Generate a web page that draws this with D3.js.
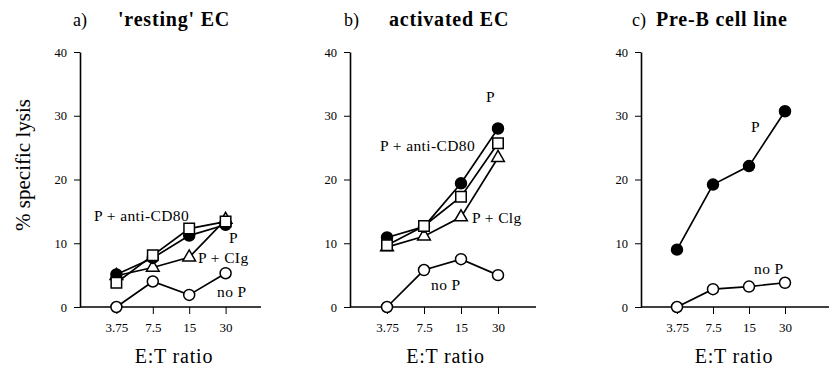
<!DOCTYPE html>
<html>
<head>
<meta charset="utf-8">
<script src="https://cdn.jsdelivr.net/npm/d3@7"></script>
<style>
  body { margin: 0; background: #fff; }
</style>
</head>
<body>
<svg id="chart" width="829" height="371" font-family="Liberation Serif"></svg>
<script>
/// E:T ratios (x categories) and y ticks
var ratios = ["3.75", "7.5", "15", "30"];
var yTicks = [0, 10, 20, 30, 40];

/// a) 'resting' EC
var restingP        = [5.1, 7.7, 11.2, 12.9];
var restingAntiCD80 = [3.8, 8.1, 12.3, 13.4];
var restingCIg      = [4.9, 6.2, 7.8, 13.7];
var restingNoP      = [0, 4.0, 1.9, 5.3];

/// b) activated EC
var activatedP        = [10.9, 12.6, 19.4, 28.0];
var activatedAntiCD80 = [9.7, 12.7, 17.3, 25.7];
var activatedCIg      = [9.4, 11.1, 14.1, 23.4];
var activatedNoP      = [0, 5.8, 7.5, 5.0];

/// c) Pre-B cell line
var preBP   = [9.0, 19.2, 22.1, 30.7];
var preBNoP = [0, 2.8, 3.2, 3.8];

var svg = d3.select("#chart");

var yScale = d3.scaleLinear().domain([0, 40]).range([307, 52]);

/// panel layout
var panels = [
    { letter: "a)", letterX: 73, title: "'resting' EC", titleX: 118, x0: 80, len: 182, axisEnd: 261,
      series: [
        { values: restingNoP, marker: "circle" },
        { values: restingCIg, marker: "triangle" },
        { values: restingP, marker: "dot" },
        { values: restingAntiCD80, marker: "square" }
      ],
      labels: [
        { text: "P + anti-CD80", x: 94, y: 221 },
        { text: "P", x: 229, y: 243 },
        { text: "P + CIg", x: 198, y: 263 },
        { text: "no P", x: 217, y: 297 }
      ] },
    { letter: "b)", letterX: 344, title: "activated EC", titleX: 389, x0: 350, len: 185, axisEnd: 536,
      series: [
        { values: activatedNoP, marker: "circle" },
        { values: activatedCIg, marker: "triangle" },
        { values: activatedP, marker: "dot" },
        { values: activatedAntiCD80, marker: "square" }
      ],
      labels: [
        { text: "P", x: 486, y: 102 },
        { text: "P + anti-CD80", x: 380, y: 151 },
        { text: "P + Clg", x: 472, y: 223 },
        { text: "no P", x: 431, y: 290 }
      ] },
    { letter: "c)", letterX: 632, title: "Pre-B cell line", titleX: 656, x0: 641, len: 180, axisEnd: 829,
      series: [
        { values: preBNoP, marker: "circle" },
        { values: preBP, marker: "dot" }
      ],
      labels: [
        { text: "P", x: 751, y: 132 },
        { text: "no P", x: 754, y: 274 }
      ] }
];

var line = d3.line();

panels.forEach(function(p) {
    var g = svg.append("g");
    var xScale = d3.scalePoint().domain(ratios).range([p.x0, p.x0 + p.len]).padding(1);

    /// title
    g.append("text").attr("x", p.letterX).attr("y", 26).attr("font-size", 18).text(p.letter);
    g.append("text").attr("x", p.titleX).attr("y", 26).attr("font-size", 20)
        .attr("font-weight", "bold").attr("letter-spacing", 0.8).text(p.title);

    /// y axis
    var yAxis = g.append("g").attr("transform", `translate(${p.x0}, 0)`)
        .call(d3.axisLeft(yScale).tickValues(yTicks).tickSize(6).tickSizeOuter(0).tickPadding(7));
    yAxis.attr("font-family", "Liberation Serif").attr("font-size", 12.5);
    yAxis.select(".domain").attr("stroke-width", 1.6);

    /// x axis
    var xAxis = g.append("g").attr("transform", `translate(0, ${yScale(0)})`)
        .call(d3.axisBottom(xScale).tickSize(7).tickSizeOuter(0).tickPadding(9));
    xAxis.attr("font-family", "Liberation Serif").attr("font-size", 13);
    xAxis.select(".domain").remove();
    g.append("line").attr("x1", p.x0).attr("x2", p.axisEnd)
        .attr("y1", yScale(0)).attr("y2", yScale(0))
        .attr("stroke", "#000").attr("stroke-width", 1.6);

    g.append("text").attr("x", (xScale(ratios[0]) + xScale(ratios[3])) / 2 + 3).attr("y", 363)
        .attr("text-anchor", "middle").attr("font-size", 20).attr("letter-spacing", 0.8)
        .text("E:T ratio");

    /// series lines then markers
    p.series.forEach(function(s) {
        var pts = s.values.map(function(v, i) { return [xScale(ratios[i]), yScale(v)]; });
        g.append("path").attr("d", line(pts)).attr("fill", "none")
            .attr("stroke", "#000").attr("stroke-width", 1.7);
        var sym = s.marker === "square" ? d3.symbolSquare : s.marker === "triangle" ? d3.symbolTriangle : d3.symbolCircle;
        var size = s.marker === "square" ? 110 : s.marker === "triangle" ? 70 : 95;
        g.append("g").selectAll("path").data(s.values).enter().append("path")
            .attr("transform", (d, i) => `translate(${xScale(ratios[i])}, ${yScale(d)})`)
            .attr("d", d3.symbol().type(sym).size(size))
            .attr("stroke", "#000").attr("stroke-width", 1.5)
            .attr("fill", s.marker === "dot" ? "#000" : "#fff");
    });

    /// series annotations
    p.labels.forEach(function(l) {
        g.append("text").attr("x", l.x).attr("y", l.y)
            .attr("font-size", 15.5).attr("letter-spacing", 0.4).text(l.text);
    });
});

/// shared y axis label
svg.append("text").attr("transform", "translate(30, 165) rotate(-90)")
    .attr("text-anchor", "middle").attr("font-size", 21).text("% specific lysis");
</script>
</body>
</html>
